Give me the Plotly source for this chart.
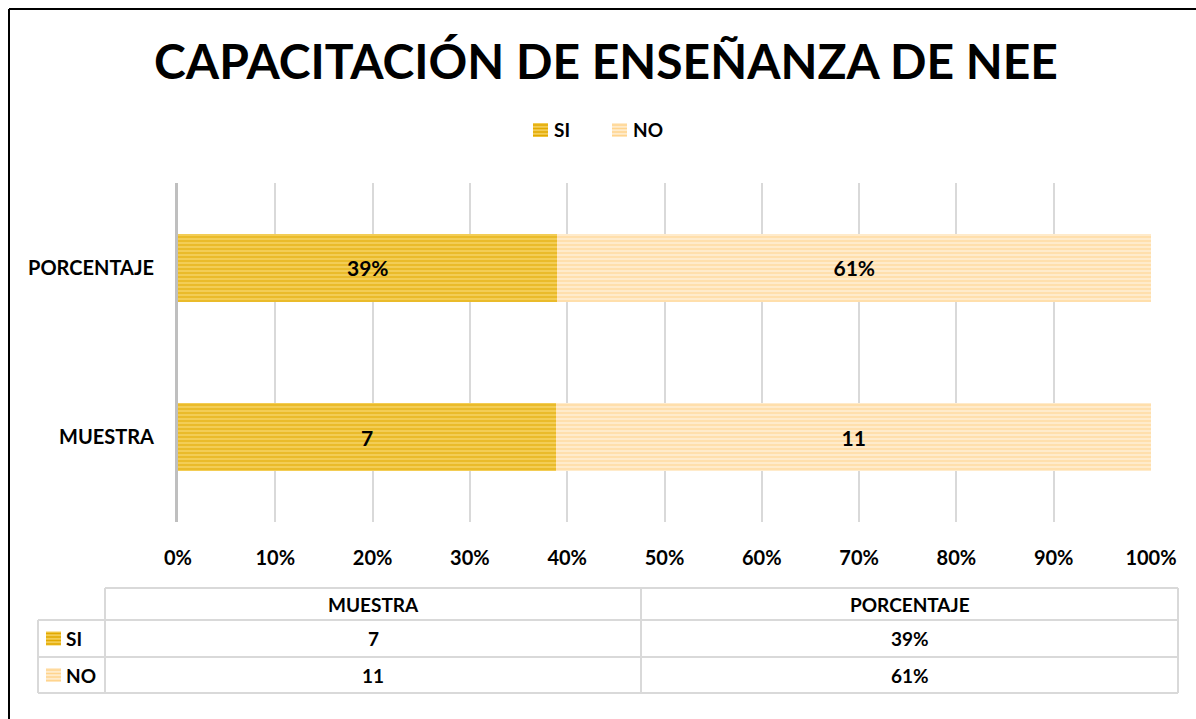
import plotly.graph_objects as go

W, H = 1196, 719

categories = ["MUESTRA", "PORCENTAJE"]
series_names = ["SI", "NO"]
si_values = [7, 0.39]
no_values = [11, 0.61]
si_labels = ["7", "39%"]
no_labels = ["11", "61%"]
x_ticks = [0, 10, 20, 30, 40, 50, 60, 70, 80, 90, 100]
x_tick_labels = ["0%", "10%", "20%", "30%", "40%", "50%", "60%", "70%", "80%", "90%", "100%"]
title_text = "CAPACITACIÓN DE ENSEÑANZA DE NEE"

FONT = "Lato"
SI_BG, SI_FG = "#F3CD55", "#E2A900"
NO_BG, NO_FG = "#FFEBCB", "#FFD48E"
GRID = "#D9D9D9"


def px(x):
    return x / W


def py(y):
    return 1 - y / H


fig = go.Figure()
fig.add_trace(go.Bar(
    y=categories, x=si_values, name=series_names[0], orientation="h",
    text=si_labels, textposition="inside", insidetextanchor="middle",
    textfont=dict(family=FONT, size=21, color="black", weight="bold"),
    marker=dict(color=SI_BG, line=dict(width=0),
                pattern=dict(shape="-", bgcolor=SI_BG, fgcolor=SI_FG, size=4, solidity=0.5, fillmode="overlay")),
    width=0.4, hoverinfo="skip", showlegend=False,
))
fig.add_trace(go.Bar(
    y=categories, x=no_values, name=series_names[1], orientation="h",
    text=no_labels, textposition="inside", insidetextanchor="middle",
    textfont=dict(family=FONT, size=21, color="black", weight="bold"),
    marker=dict(color=NO_BG, line=dict(width=0),
                pattern=dict(shape="-", bgcolor=NO_BG, fgcolor=NO_FG, size=4, solidity=0.5, fillmode="overlay")),
    width=0.4, hoverinfo="skip", showlegend=False,
))

shapes = []
annotations = []


def swatch(x0, yc, bg, fg):
    shapes.append(dict(type="rect", xref="paper", yref="paper", x0=px(x0), x1=px(x0 + 15), y0=py(yc - 7), y1=py(yc + 7),
                       fillcolor=bg, line=dict(width=0)))
    for k in range(4):
        yy = yc - 5 + k * 3.5
        shapes.append(dict(type="line", xref="paper", yref="paper", x0=px(x0), x1=px(x0 + 15), y0=py(yy), y1=py(yy),
                           line=dict(color=fg, width=1.5)))


# outer frame (top and left edges visible)
shapes.append(dict(type="line", xref="paper", yref="paper", x0=px(9), x1=px(W + 5), y0=py(9), y1=py(9),
                   line=dict(color="black", width=2)))
shapes.append(dict(type="line", xref="paper", yref="paper", x0=px(9), x1=px(9), y0=py(9), y1=py(H + 5),
                   line=dict(color="black", width=2)))

# top legend (drawn manually)
lfont = dict(family=FONT, size=19, color="black", weight="bold")
legend_items = [(series_names[0], SI_BG, SI_FG, 533), (series_names[1], NO_BG, NO_FG, 612)]
for name, bg, fg, lx in legend_items:
    swatch(lx, 130, bg, fg)
    annotations.append(dict(xref="paper", yref="paper", x=px(lx + 19), y=py(130), text=name, showarrow=False,
                            font=lfont, xanchor="left", yanchor="middle"))

# data table
tx_left, tx_c1, tx_c2, tx_right = 38, 105, 641, 1178
ty = [588, 620, 657, 693]
tline = dict(color=GRID, width=2)
shapes.append(dict(type="line", xref="paper", yref="paper", x0=px(tx_c1), x1=px(tx_right), y0=py(ty[0]), y1=py(ty[0]), line=tline))
for yy in ty[1:]:
    shapes.append(dict(type="line", xref="paper", yref="paper", x0=px(tx_left), x1=px(tx_right), y0=py(yy), y1=py(yy), line=tline))
for xx in (tx_c1, tx_c2, tx_right):
    shapes.append(dict(type="line", xref="paper", yref="paper", x0=px(xx), x1=px(xx), y0=py(ty[0]), y1=py(ty[3]), line=tline))
shapes.append(dict(type="line", xref="paper", yref="paper", x0=px(tx_left), x1=px(tx_left), y0=py(ty[1]), y1=py(ty[3]), line=tline))

col_centers = [(tx_c1 + tx_c2) / 2, (tx_c2 + tx_right) / 2]
tfont = dict(family=FONT, size=19, color="black", weight="bold")
for i, cat in enumerate(categories):
    annotations.append(dict(xref="paper", yref="paper", x=px(col_centers[i]), y=py((ty[0] + ty[1]) / 2),
                            text=cat, showarrow=False, font=tfont, xanchor="center", yanchor="middle"))
row_data = [(series_names[0], si_labels, SI_BG, SI_FG), (series_names[1], no_labels, NO_BG, NO_FG)]
for r, (name, labels, bg, fg) in enumerate(row_data):
    yc = (ty[r + 1] + ty[r + 2]) / 2
    swatch(46, yc, bg, fg)
    annotations.append(dict(xref="paper", yref="paper", x=px(64), y=py(yc), text=name, showarrow=False,
                            font=tfont, xanchor="left", yanchor="middle"))
    for i in range(len(categories)):
        annotations.append(dict(xref="paper", yref="paper", x=px(col_centers[i]), y=py(yc), text=labels[i],
                                showarrow=False, font=tfont, xanchor="center", yanchor="middle"))

fig.update_layout(
    width=W, height=H, autosize=False,
    margin=dict(l=0, r=0, t=0, b=0, pad=0),
    paper_bgcolor="white", plot_bgcolor="white",
    barmode="stack", barnorm="percent", showlegend=False,
    title=dict(text=title_text, x=px(606), y=py(62), xanchor="center", yanchor="middle",
               font=dict(family=FONT, size=48, color="black", weight="bold")),
    xaxis=dict(domain=[px(178), px(1151)], range=[0, 100], tickvals=x_ticks, ticktext=x_tick_labels,
               showgrid=True, gridcolor=GRID, gridwidth=1.5, zeroline=False, showline=False,
               tickfont=dict(family=FONT, size=20, color="black", weight="bold"), ticklabelstandoff=22,
               automargin=False, fixedrange=True),
    yaxis=dict(domain=[py(522), py(183)], categoryorder="array", categoryarray=categories,
               showline=True, linecolor="#BFBFBF", linewidth=3, showgrid=False, zeroline=False,
               tickfont=dict(family=FONT, size=20, color="black", weight="bold"), ticklabelstandoff=17,
               automargin=False, fixedrange=True),
    shapes=shapes, annotations=annotations,
)

fig.write_html("out.html", config=dict(displayModeBar=False),
               post_script="document.body.style.margin='0';document.body.style.overflow='hidden';")
